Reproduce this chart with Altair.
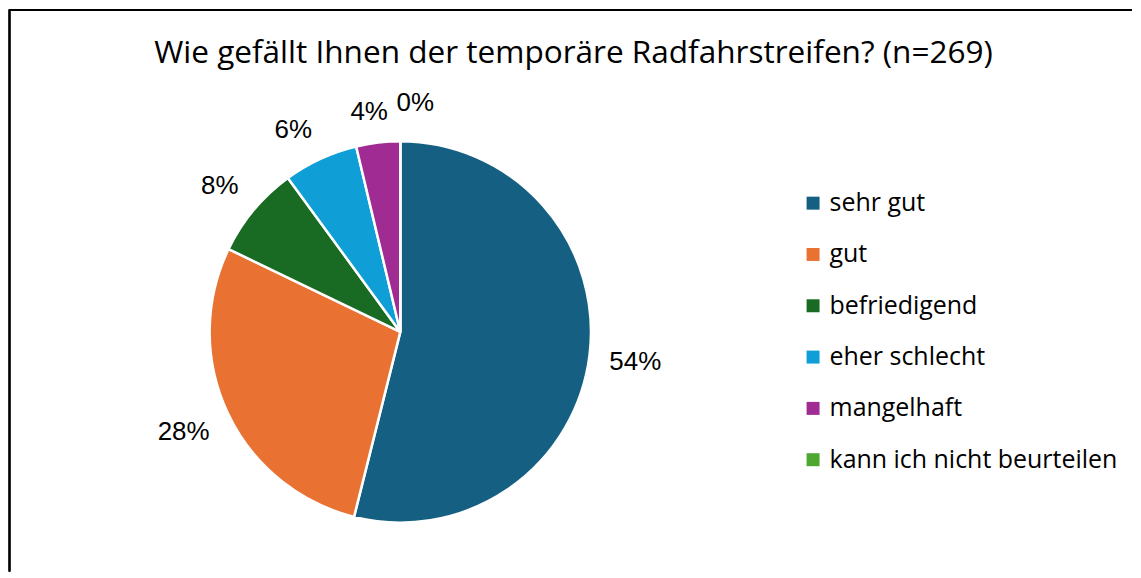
import altair as alt
import pandas as pd

categories = ["sehr gut", "gut", "befriedigend", "eher schlecht", "mangelhaft", "kann ich nicht beurteilen"]
counts = [145, 76, 21, 17, 10, 0]
colors = ["#156082", "#E97132", "#196B24", "#0F9ED5", "#A02B93", "#4EA72E"]
title_text = "Wie gefällt Ihnen der temporäre Radfahrstreifen? (n=269)"

df = pd.DataFrame({"Kategorie": categories, "Anzahl": counts, "Ordnung": list(range(len(categories)))})
total = sum(counts)
df["Label"] = [f"{round(c / total * 100):.0f}%" for c in counts]

FONT = "Open Sans"
LFONT = "Liberation Sans"
W, H = 1125, 562
CX, CY = 392, 322
R = 191
TITLE_SIZE = 31.6

base = alt.Chart(df).encode(
    order=alt.Order("Ordnung:Q"),
    x=alt.value(CX),
    y=alt.value(CY),
)

pie = base.mark_arc(outerRadius=R, stroke="white", strokeWidth=2.5).encode(
    theta=alt.Theta("Anzahl:Q", stack=True),
    color=alt.Color(
        "Kategorie:N",
        sort=categories,
        scale=alt.Scale(domain=categories, range=colors),
        legend=alt.Legend(
            title=None,
            orient="none",
            legendX=793,
            legendY=180.5,
            padding=0,
            symbolType="square",
            symbolSize=169,
            symbolStrokeWidth=0,
            labelFont=FONT,
            labelFontSize=25,
            labelColor="#000000",
            labelOffset=4,
            rowPadding=25.4,
            labelLimit=400,
        ),
    ),
)

# Excel-like outside labels: the corner of the label box nearest to the pie
# sits on a circle just outside the pie, along the slice's middle angle.
label_base = (
    base.transform_joinaggregate(gesamt="sum(Anzahl)")
    .transform_window(kum="sum(Anzahl)", sort=[alt.SortField("Ordnung")], frame=[None, 0])
    .transform_calculate(
        mid="2 * PI * (datum.kum - datum.Anzahl / 2) / datum.gesamt",
        hw="7.2 * length(datum.Label) + 4.4",
    )
    .transform_calculate(
        ax=f"{R + 20} * sin(datum.mid) + datum.hw * clamp(3 * sin(datum.mid), -1, 1)",
        ay=f"-{R + 20} * cos(datum.mid) - 11 * clamp(3 * cos(datum.mid), -1, 1)",
    )
    .transform_calculate(
        th="atan2(datum.ax, -datum.ay)",
        rr="sqrt(datum.ax * datum.ax + datum.ay * datum.ay)",
    )
    .encode(
        theta=alt.Theta("th:Q", scale=None, stack=None),
        radius=alt.Radius("rr:Q", scale=None),
    )
)

labels_main = label_base.transform_filter("datum.Anzahl > 0").mark_text(
    font=LFONT, fontSize=26, color="#000000"
).encode(text="Label:N")

labels_zero = label_base.transform_filter("datum.Anzahl == 0").mark_text(
    dx=15, dy=-7, font=LFONT, fontSize=26, color="#000000"
).encode(text="Label:N")

frame_left = alt.Chart(df).mark_rule(color="#000000", strokeWidth=1.5).encode(
    x=alt.value(0.5), y=alt.value(-1), y2=alt.value(H)
)
frame_top = alt.Chart(df).mark_rule(color="#000000", strokeWidth=1.5).encode(
    x=alt.value(0), x2=alt.value(W), y=alt.value(-0.5)
)

chart = (
    alt.layer(pie, labels_main, labels_zero, frame_left, frame_top)
    .properties(
        width=W,
        height=H,
        padding=0,
        title=alt.TitleParams(
            title_text,
            font=FONT,
            fontSize=TITLE_SIZE,
            fontWeight="normal",
            color="#000000",
            anchor="middle",
            orient="top",
            baseline="alphabetic",
            dx=3,
            offset=-(54 + TITLE_SIZE),
        ),
    )
    .configure_view(stroke=None)
)

chart.save("out.html", embed_options={"renderer": "svg", "actions": False})
